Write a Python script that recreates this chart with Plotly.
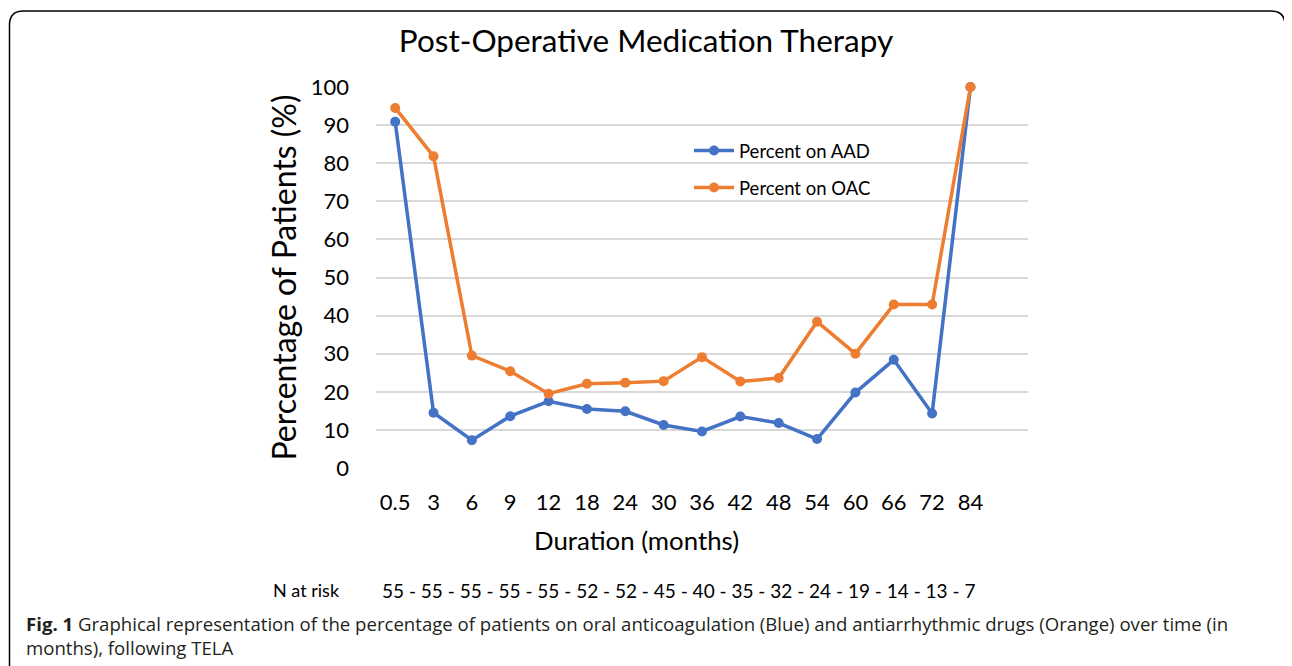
import plotly.graph_objects as go

durations = ["0.5", "3", "6", "9", "12", "18", "24", "30", "36", "42", "48", "54", "60", "66", "72", "84"]
aad = [90.9, 14.5, 7.3, 13.6, 17.5, 15.5, 14.9, 11.3, 9.6, 13.5, 11.8, 7.6, 19.8, 28.4, 14.3, 100]
oac = [94.5, 81.8, 29.5, 25.4, 19.5, 22.1, 22.4, 22.8, 29.1, 22.7, 23.6, 38.4, 30.0, 42.9, 42.9, 100]
n_at_risk = [55, 55, 55, 55, 55, 52, 52, 45, 40, 35, 32, 24, 19, 14, 13, 7]
y_ticks = list(range(0, 101, 10))

BLUE = "#4472C4"
ORANGE = "#ED7D31"
FONT = "Lato"
CAP_FONT = "Open Sans"

# The page body has an 8px margin; work in page pixels and convert.
OFF = 8
W, H = 1292 - OFF, 666 - OFF
L, R, T, B = 376 - OFF, 1028 - OFF, 87 - OFF, 468 - OFF


def px(xp):
    return (xp - OFF - L) / (R - L)


def py(yp):
    return (B - (yp - OFF)) / (B - T)


x_idx = list(range(len(durations)))

fig = go.Figure()
fig.add_trace(go.Scatter(x=x_idx, y=aad, mode="lines+markers", name="Percent on AAD", legendgroup="a",
                         line=dict(color=BLUE, width=3.5), marker=dict(color=BLUE, size=10),
                         cliponaxis=False))
fig.add_trace(go.Scatter(x=x_idx, y=oac, mode="lines+markers", name="Percent on OAC", legendgroup="b",
                         line=dict(color=ORANGE, width=3.5), marker=dict(color=ORANGE, size=10),
                         cliponaxis=False))

fig.update_layout(
    width=W, height=H,
    margin=dict(l=L, r=W - R, t=T, b=H - B, autoexpand=False),
    paper_bgcolor="white", plot_bgcolor="white",
    font=dict(family=FONT, color="#000000"),
    showlegend=True,
    legend=dict(x=px(689), y=py(132), xanchor="left", yanchor="top",
                bgcolor="rgba(0,0,0,0)", font=dict(size=18.5, family=FONT, color="#000"),
                itemwidth=40, tracegroupgap=10),
    title=dict(text="Post-Operative Medication Therapy", x=(646 - OFF) / W, xanchor="center",
               y=1 - (41 - OFF) / H, yanchor="middle", font=dict(size=31.5, family=FONT, color="#000")),
)

fig.update_xaxes(
    range=[-0.5, 16.5], tickmode="array", tickvals=x_idx, ticktext=durations,
    showgrid=False, zeroline=False, showline=False, ticks="",
    tickfont=dict(size=22, family=FONT, color="#000"), ticklabelstandoff=19,
)
fig.update_yaxes(
    range=[0, 100], tickmode="array", tickvals=y_ticks,
    showgrid=True, gridcolor="#D9D9D9", gridwidth=1.5, zeroline=False, showline=False,
    tickfont=dict(size=22, family=FONT, color="#000"), ticklabelstandoff=26,
    title=dict(text="Percentage of Patients (%)", font=dict(size=32, family=FONT, color="#000"),
               standoff=4),
)

# x axis title
fig.add_annotation(text="Duration (months)", xref="paper", yref="paper",
                   x=px(636), y=py(540), xanchor="center", yanchor="middle",
                   showarrow=False, font=dict(size=25.8, family=FONT, color="#000"))

# N at risk
fig.add_annotation(text="N at risk", xref="paper", yref="paper",
                   x=px(342), y=py(590), xanchor="right", yanchor="middle",
                   showarrow=False, font=dict(size=18, family=FONT, color="#000"))
fig.add_annotation(text=" - ".join(str(n) for n in n_at_risk), xref="paper", yref="paper",
                   x=px(380), y=py(590), xanchor="left", yanchor="middle",
                   showarrow=False, font=dict(size=19, family=FONT, color="#000"))

# caption
cap = ("<b>Fig. 1</b> Graphical representation of the percentage of patients on oral anticoagulation (Blue) "
       "and antiarrhythmic drugs (Orange) over time (in<br>months), following TELA")
fig.add_annotation(text=cap, xref="paper", yref="paper",
                   x=px(24), y=py(609), xanchor="left", yanchor="top",
                   align="left", showarrow=False, font=dict(size=18.6, family=CAP_FONT, color="#231F20"))

# rounded border (top corners)
r = 14
pts = [(9.5, 700), (9.5, 11 + r), (9.5, 11), (9.5 + r, 11), (1285 - r, 11), (1285, 11), (1285, 11 + r), (1285, 700)]
pp = [(px(a), py(b)) for a, b in pts]
path_paper = (f"M {pp[0][0]} {pp[0][1]} L {pp[1][0]} {pp[1][1]} Q {pp[2][0]} {pp[2][1]} {pp[3][0]} {pp[3][1]} "
              f"L {pp[4][0]} {pp[4][1]} Q {pp[5][0]} {pp[5][1]} {pp[6][0]} {pp[6][1]} L {pp[7][0]} {pp[7][1]}")
fig.add_shape(type="path", xref="paper", yref="paper", path=path_paper, line=dict(color="#000", width=1.5))

fig.write_html("out.html")
